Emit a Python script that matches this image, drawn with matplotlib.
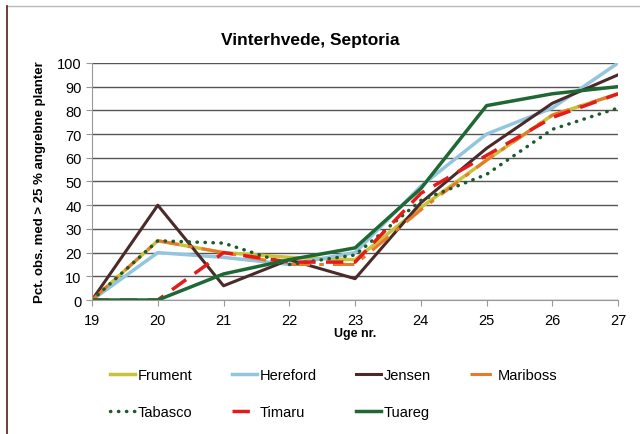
import matplotlib
matplotlib.use("Agg")
import matplotlib.pyplot as plt
from matplotlib.lines import Line2D

plt.rcParams['font.family'] = ['Liberation Sans', 'DejaVu Sans']

# uge nr.
weeks = [19, 20, 21, 22, 23, 24, 25, 26, 27]

frument = [0, 25, 20, 18, 17, 39, 59, 78, 87]
hereford = [0, 20, 18, 15, 20, 48, 70, 81, 100]
jensen = [0, 40, 6, 17, 9, 41, 64, 83, 95]
mariboss = [0, 25, 20, 15, 15, 38, 59, 78, 87]
tabasco = [0, 25, 24, 15, 19, 42, 53, 72, 81]
timaru = [0, 0, 20, 16, 16, 45, 61, 77, 87]
tuareg = [0, 0, 11, 17, 22, 47, 82, 87, 90]

fig = plt.figure(figsize=(6.4, 4.35), dpi=100)
ax = fig.add_axes([0.1438, 0.308, 0.822, 0.545])

l_fru, = ax.plot(weeks, frument, color='#c9c23b', lw=2.5, label='Frument')
l_her, = ax.plot(weeks, hereford, color='#92c5de', lw=2.5, label='Hereford')
l_jen, = ax.plot(weeks, jensen, color='#4a2b29', lw=2.2, label='Jensen')
l_mar, = ax.plot(weeks, mariboss, color='#e8792a', lw=2.2, dashes=(7, 3, 1.5, 3),
                 label='Mariboss')
l_tab, = ax.plot(weeks, tabasco, color='#1d5a2e', lw=2.5, linestyle=(0, (0.1, 2.2)),
                 dash_capstyle='round', label='Tabasco')
l_tim, = ax.plot(weeks, timaru, color='#e51b1b', lw=2.5, dashes=(5, 3), label='Timaru')
l_tua, = ax.plot(weeks, tuareg, color='#1e6834', lw=2.5, label='Tuareg')

ax.set_xlim(19, 27)
ax.set_ylim(0, 100)
ax.set_xticks(weeks)
ax.set_yticks(range(0, 101, 10))
ax.yaxis.grid(True, color='#555555', lw=1)
ax.set_axisbelow(True)
for s in ['top', 'right']:
    ax.spines[s].set_visible(False)
ax.spines['left'].set_color('#999999')
ax.spines['bottom'].set_color('#999999')
ax.tick_params(axis='both', labelsize=10.5, color='#999999', length=4)
ax.tick_params(axis='x', pad=5)

fig.suptitle('Vinterhvede, Septoria', x=0.485, y=0.925, fontsize=12.5,
             fontweight='bold')
ax.set_xlabel('Uge nr.', fontsize=9, fontweight='bold', labelpad=0)
ax.set_ylabel('Pct. obs. med > 25 % angrebne planter', fontsize=9.5,
              fontweight='bold', labelpad=8)

# legenden fyldes kolonnevis, saa raekkefoelgen byttes om
handles = [l_fru, l_tab, l_her, l_tim, l_jen, l_tua, l_mar]
fig.legend(handles, [h.get_label() for h in handles],
           loc='upper left', bbox_to_anchor=(0.163, 0.165), ncol=4, frameon=False,
           fontsize=10.5, handlelength=1.7, handletextpad=0.2,
           columnspacing=2.7, labelspacing=1.6, borderaxespad=0)

# ramme
fig.add_artist(Line2D([0.011, 1.0], [0.984, 0.984], color='#bbbbbb', lw=1))
fig.add_artist(Line2D([0.011, 0.011], [0.0, 0.984], color='#5a1a1a', lw=1.2))

fig.savefig('out.png', dpi=100)
